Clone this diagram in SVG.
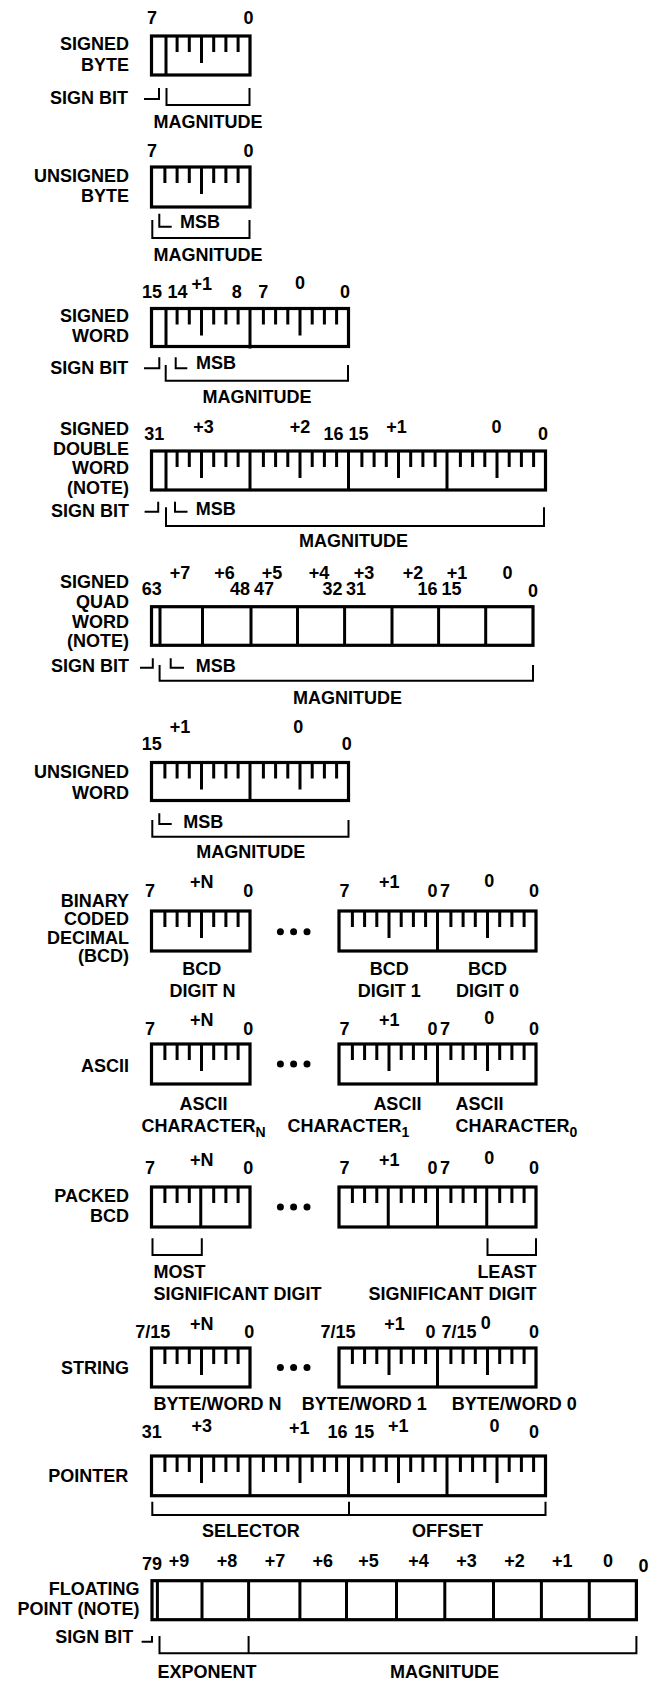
<svg xmlns="http://www.w3.org/2000/svg" width="653" height="1683" viewBox="0 0 653 1683">
<style>
text{font-family:"Liberation Sans",Arial,Helvetica,sans-serif;font-weight:bold;font-size:18px;fill:#000}
.e{text-anchor:end}
.m{text-anchor:middle}
.bx{fill:none;stroke:#000;stroke-width:3.2}
.tk{fill:none;stroke:#000;stroke-width:3}
.br{fill:none;stroke:#000;stroke-width:2}
.sub{font-size:14px}
</style>
<rect width="653" height="1683" fill="#fff"/>

<g id="signed-byte">
<text class="e" x="129" y="50">SIGNED</text>
<text class="e" x="129" y="70.5">BYTE</text>
<text class="m" x="152" y="24">7</text>
<text class="m" x="248.5" y="24">0</text>
<rect class="bx" x="151.5" y="36" width="98.5" height="39"/>
<path class="tk" d="M166,36V75M177.1,36v16M189.3,36v16M201.5,36v27M213.7,36v16M225.9,36v16M238.1,36v16"/>
<text class="e" x="128" y="104">SIGN BIT</text>
<path class="br" d="M144,99H159V88"/>
<path class="br" d="M166.5,88V105H249.5V88"/>
<text class="m" x="208" y="128">MAGNITUDE</text>
</g>

<g id="unsigned-byte">
<text class="e" x="129" y="181.7">UNSIGNED</text>
<text class="e" x="129" y="202">BYTE</text>
<text class="m" x="152" y="157">7</text>
<text class="m" x="248.5" y="157">0</text>
<rect class="bx" x="151.5" y="167" width="98.5" height="40"/>
<path class="tk" d="M164.9,167v16M177.1,167v16M189.3,167v16M201.5,167v27M213.7,167v16M225.9,167v16M238.1,167v16"/>
<path class="br" d="M159.3,213.7V226.7H171.7"/>
<text x="180" y="228">MSB</text>
<path class="br" d="M152.3,220V238H249.5V220"/>
<text class="m" x="208" y="261">MAGNITUDE</text>
</g>

<g id="signed-word">
<text class="e" x="129" y="321.7">SIGNED</text>
<text class="e" x="129" y="341.7">WORD</text>
<text class="m" x="152" y="298">15</text>
<text class="m" x="177.5" y="298">14</text>
<text class="m" x="201.7" y="290">+1</text>
<text class="m" x="236.7" y="298">8</text>
<text class="m" x="263.3" y="298">7</text>
<text class="m" x="300" y="289">0</text>
<text class="m" x="345" y="298">0</text>
<rect class="bx" x="151.5" y="308.5" width="197" height="38"/>
<path class="tk" d="M166,308.5V346.5M250,308.5V348.5M177.1,308.5v16M189.3,308.5v16M201.5,308.5v27M213.7,308.5v16M225.9,308.5v16M238.1,308.5v16M263.4,308.5v16M275.6,308.5v16M287.8,308.5v16M300,308.5v27M312.2,308.5v16M324.4,308.5v16M336.6,308.5v16"/>
<text class="e" x="128.3" y="374">SIGN BIT</text>
<path class="br" d="M144,368.3H159.3V357.3"/>
<path class="br" d="M175.7,357.3V368.3H187.3"/>
<text x="196" y="369">MSB</text>
<path class="br" d="M165.7,365V380.7H348V365"/>
<text class="m" x="257" y="403">MAGNITUDE</text>
</g>

<g id="signed-double-word">
<text class="e" x="129" y="435">SIGNED</text>
<text class="e" x="129" y="454.5">DOUBLE</text>
<text class="e" x="129" y="474">WORD</text>
<text class="e" x="129" y="493.5">(NOTE)</text>
<text class="m" x="154.3" y="440">31</text>
<text class="m" x="203.6" y="433.3">+3</text>
<text class="m" x="300" y="433.3">+2</text>
<text class="m" x="333.5" y="440">16</text>
<text class="m" x="358.5" y="440">15</text>
<text class="m" x="396.4" y="433.3">+1</text>
<text class="m" x="496.4" y="433.3">0</text>
<text class="m" x="543" y="440">0</text>
<rect class="bx" x="151.5" y="451" width="394" height="39"/>
<path class="tk" d="M166,451V490M250,451V490M348.5,451V490M447,451V490M177.1,451v16M189.3,451v16M201.5,451v27M213.7,451v16M225.9,451v16M238.1,451v16M263.4,451v16M275.6,451v16M287.8,451v16M300,451v27M312.2,451v16M324.4,451v16M336.6,451v16M361.9,451v16M374.1,451v16M386.3,451v16M398.5,451v27M410.7,451v16M422.9,451v16M435.1,451v16M460.4,451v16M472.6,451v16M484.8,451v16M497,451v27M509.2,451v16M521.4,451v16M533.6,451v16"/>
<text class="e" x="129" y="516.7">SIGN BIT</text>
<path class="br" d="M144.6,511.7H158.2V501.7"/>
<path class="br" d="M175,501.7V511.7H187.5"/>
<text x="195.7" y="515">MSB</text>
<path class="br" d="M166,507.3V526H544V507.3"/>
<text class="m" x="353.6" y="546.7">MAGNITUDE</text>
</g>

<g id="signed-quad-word">
<text class="e" x="129" y="588.3">SIGNED</text>
<text class="e" x="129" y="608">QUAD</text>
<text class="e" x="129" y="627.5">WORD</text>
<text class="e" x="129" y="647">(NOTE)</text>
<text class="m" x="151.8" y="595">63</text>
<text class="m" x="180" y="579.3">+7</text>
<text class="m" x="224.6" y="579.3">+6</text>
<text class="m" x="240" y="595">48</text>
<text class="m" x="264" y="595">47</text>
<text class="m" x="272" y="579.3">+5</text>
<text class="m" x="319" y="579.3">+4</text>
<text class="m" x="332.5" y="595">32</text>
<text class="m" x="356" y="595">31</text>
<text class="m" x="364" y="579.3">+3</text>
<text class="m" x="413" y="579.3">+2</text>
<text class="m" x="427.5" y="595">16</text>
<text class="m" x="451.5" y="595">15</text>
<text class="m" x="457" y="579.3">+1</text>
<text class="m" x="507.5" y="579.3">0</text>
<text class="m" x="533" y="597.3">0</text>
<rect class="bx" x="151.5" y="606.7" width="381.5" height="38.6"/>
<path class="tk" d="M160,606.7V645.3M202.5,606.7V645.3M251,606.7V645.3M297.5,606.7V645.3M344.6,606.7V645.3M392,606.7V645.3M438.6,606.7V645.3M485.7,606.7V645.3"/>
<text class="e" x="129" y="671.7">SIGN BIT</text>
<path class="br" d="M140,667.7H152.8V658.3"/>
<path class="br" d="M170.7,658.3V667.7H184"/>
<text x="195.7" y="672.3">MSB</text>
<path class="br" d="M159.6,665V680.7H533V665"/>
<text class="m" x="347.5" y="704">MAGNITUDE</text>
</g>

<g id="unsigned-word">
<text class="e" x="129" y="778.3">UNSIGNED</text>
<text class="e" x="129" y="799">WORD</text>
<text class="m" x="180" y="733.3">+1</text>
<text class="m" x="298.3" y="733.3">0</text>
<text class="m" x="151.7" y="750">15</text>
<text class="m" x="346.7" y="750">0</text>
<rect class="bx" x="151.5" y="762.5" width="197" height="38"/>
<path class="tk" d="M250,762.5V800.5M164.9,762.5v16M177.1,762.5v16M189.3,762.5v16M201.5,762.5v27M213.7,762.5v16M225.9,762.5v16M238.1,762.5v16M263.4,762.5v16M275.6,762.5v16M287.8,762.5v16M300,762.5v27M312.2,762.5v16M324.4,762.5v16M336.6,762.5v16"/>
<path class="br" d="M159.3,813.3V824H171.7"/>
<text x="183.3" y="828.3">MSB</text>
<path class="br" d="M152.3,820V836.7H348.5V820"/>
<text class="m" x="250.8" y="858.3">MAGNITUDE</text>
</g>

<g id="bcd">
<text class="e" x="129" y="906.7">BINARY</text>
<text class="e" x="129" y="925.2">CODED</text>
<text class="e" x="129" y="943.7">DECIMAL</text>
<text class="e" x="129" y="962.2">(BCD)</text>
<text class="m" x="150" y="896.7">7</text>
<text class="m" x="201.8" y="888.3">+N</text>
<text class="m" x="248.2" y="896.7">0</text>
<text class="m" x="344.6" y="896.7">7</text>
<text class="m" x="389.3" y="888.3">+1</text>
<text class="m" x="432.5" y="896.7">0</text>
<text class="m" x="445" y="896.7">7</text>
<text class="m" x="489.3" y="886.5">0</text>
<text class="m" x="534" y="896.7">0</text>
<rect class="bx" x="151.5" y="911" width="98.5" height="40"/>
<rect class="bx" x="339" y="911" width="197" height="40"/>
<path class="tk" d="M437.5,911V951M164.9,911v16M177.1,911v16M189.3,911v16M201.5,911v27M213.7,911v16M225.9,911v16M238.1,911v16M352.4,911v16M364.6,911v16M376.8,911v16M389,911v27M401.2,911v16M413.4,911v16M425.6,911v16M450.9,911v16M463.1,911v16M475.3,911v16M487.5,911v27M499.7,911v16M511.9,911v16M524.1,911v16"/>
<circle cx="280.4" cy="931.7" r="3.5"/>
<circle cx="293.6" cy="931.7" r="3.5"/>
<circle cx="307" cy="931.7" r="3.5"/>
<text class="m" x="201.8" y="975">BCD</text>
<text class="m" x="202.5" y="996.7">DIGIT N</text>
<text class="m" x="389.3" y="975">BCD</text>
<text class="m" x="389.3" y="996.7">DIGIT 1</text>
<text class="m" x="487.5" y="975">BCD</text>
<text class="m" x="487.5" y="996.7">DIGIT 0</text>
</g>

<g id="ascii">
<text class="e" x="129" y="1071.7">ASCII</text>
<text class="m" x="150" y="1035">7</text>
<text class="m" x="201.8" y="1025.7">+N</text>
<text class="m" x="248.2" y="1035">0</text>
<text class="m" x="344.6" y="1035">7</text>
<text class="m" x="389.3" y="1025.7">+1</text>
<text class="m" x="432.5" y="1035">0</text>
<text class="m" x="445" y="1035">7</text>
<text class="m" x="489.3" y="1024">0</text>
<text class="m" x="534" y="1035">0</text>
<rect class="bx" x="151.5" y="1044" width="98.5" height="40"/>
<rect class="bx" x="339" y="1044" width="197" height="40"/>
<path class="tk" d="M437.5,1044V1084M164.9,1044v16M177.1,1044v16M189.3,1044v16M201.5,1044v27M213.7,1044v16M225.9,1044v16M238.1,1044v16M352.4,1044v16M364.6,1044v16M376.8,1044v16M389,1044v27M401.2,1044v16M413.4,1044v16M425.6,1044v16M450.9,1044v16M463.1,1044v16M475.3,1044v16M487.5,1044v27M499.7,1044v16M511.9,1044v16M524.1,1044v16"/>
<circle cx="280.4" cy="1064" r="3.5"/>
<circle cx="293.6" cy="1064" r="3.5"/>
<circle cx="307" cy="1064" r="3.5"/>
<text class="m" x="203.6" y="1110">ASCII</text>
<text class="m" x="203.5" y="1131.7">CHARACTER<tspan class="sub" dy="5">N</tspan></text>
<text class="e" x="421.4" y="1110">ASCII</text>
<text x="287.5" y="1131.7">CHARACTER<tspan class="sub" dy="5">1</tspan></text>
<text x="455.4" y="1110">ASCII</text>
<text x="455.4" y="1131.7">CHARACTER<tspan class="sub" dy="5">0</tspan></text>
</g>

<g id="packed-bcd">
<text class="e" x="129" y="1201.7">PACKED</text>
<text class="e" x="129" y="1221.7">BCD</text>
<text class="m" x="150" y="1174">7</text>
<text class="m" x="201.8" y="1165.7">+N</text>
<text class="m" x="248.2" y="1174">0</text>
<text class="m" x="344.6" y="1174">7</text>
<text class="m" x="389.3" y="1165.7">+1</text>
<text class="m" x="432.5" y="1174">0</text>
<text class="m" x="445" y="1174">7</text>
<text class="m" x="489.3" y="1164">0</text>
<text class="m" x="534" y="1174">0</text>
<rect class="bx" x="151.5" y="1187" width="98.5" height="40"/>
<rect class="bx" x="339" y="1187" width="197" height="40"/>
<path class="tk" d="M200.75,1187V1227M388.25,1187V1227M437.5,1187V1227M486.75,1187V1227M164.9,1187v16M177.1,1187v16M189.3,1187v16M213.7,1187v16M225.9,1187v16M238.1,1187v16M352.4,1187v16M364.6,1187v16M376.8,1187v16M401.2,1187v16M413.4,1187v16M425.6,1187v16M450.9,1187v16M463.1,1187v16M475.3,1187v16M499.7,1187v16M511.9,1187v16M524.1,1187v16"/>
<circle cx="280.4" cy="1207" r="3.5"/>
<circle cx="293.6" cy="1207" r="3.5"/>
<circle cx="307" cy="1207" r="3.5"/>
<path class="br" d="M152.5,1238.3V1255H201.8V1238.3"/>
<path class="br" d="M487.5,1238.3V1255H536V1238.3"/>
<text x="153.6" y="1278.3">MOST</text>
<text x="153.6" y="1300">SIGNIFICANT DIGIT</text>
<text class="e" x="536.4" y="1278.3">LEAST</text>
<text class="e" x="536.4" y="1300">SIGNIFICANT DIGIT</text>
</g>

<g id="string">
<text class="e" x="129" y="1374">STRING</text>
<text class="m" x="152.7" y="1338.3">7/15</text>
<text class="m" x="201.8" y="1330">+N</text>
<text class="m" x="249.3" y="1338.3">0</text>
<text class="m" x="338" y="1338.3">7/15</text>
<text class="m" x="394.6" y="1330">+1</text>
<text class="m" x="430.4" y="1338.3">0</text>
<text class="m" x="459" y="1338.3">7/15</text>
<text class="m" x="485.7" y="1329">0</text>
<text class="m" x="534" y="1338.3">0</text>
<rect class="bx" x="151.5" y="1348" width="98.5" height="39"/>
<rect class="bx" x="339" y="1348" width="197" height="39"/>
<path class="tk" d="M437.5,1348V1387M164.9,1348v16M177.1,1348v16M189.3,1348v16M201.5,1348v27M213.7,1348v16M225.9,1348v16M238.1,1348v16M352.4,1348v16M364.6,1348v16M376.8,1348v16M389,1348v27M401.2,1348v16M413.4,1348v16M425.6,1348v16M450.9,1348v16M463.1,1348v16M475.3,1348v16M487.5,1348v27M499.7,1348v16M511.9,1348v16M524.1,1348v16"/>
<circle cx="280.4" cy="1367.5" r="3.5"/>
<circle cx="293.6" cy="1367.5" r="3.5"/>
<circle cx="307" cy="1367.5" r="3.5"/>
<text x="153.6" y="1410">BYTE/WORD N</text>
<text x="301.8" y="1410">BYTE/WORD 1</text>
<text x="451.8" y="1410">BYTE/WORD 0</text>
</g>

<g id="pointer">
<text class="e" x="128.3" y="1482.3">POINTER</text>
<text class="m" x="151.8" y="1438.3">31</text>
<text class="m" x="201.8" y="1431.7">+3</text>
<text class="m" x="299.3" y="1434">+1</text>
<text class="m" x="337.5" y="1438.3">16</text>
<text class="m" x="364.3" y="1438.3">15</text>
<text class="m" x="398.2" y="1431.7">+1</text>
<text class="m" x="494.6" y="1431.7">0</text>
<text class="m" x="534" y="1438.3">0</text>
<rect class="bx" x="151.5" y="1456" width="394" height="39.7"/>
<path class="tk" d="M250,1456V1495.7M348.5,1456V1495.7M447,1456V1495.7M164.9,1456v16M177.1,1456v16M189.3,1456v16M201.5,1456v27M213.7,1456v16M225.9,1456v16M238.1,1456v16M263.4,1456v16M275.6,1456v16M287.8,1456v16M300,1456v27M312.2,1456v16M324.4,1456v16M336.6,1456v16M361.9,1456v16M374.1,1456v16M386.3,1456v16M398.5,1456v27M410.7,1456v16M422.9,1456v16M435.1,1456v16M460.4,1456v16M472.6,1456v16M484.8,1456v16M497,1456v27M509.2,1456v16M521.4,1456v16M533.6,1456v16"/>
<path class="br" d="M152.3,1501.7V1515H545.5V1501.7M349,1501.7V1515"/>
<text class="m" x="250.8" y="1537.3">SELECTOR</text>
<text class="m" x="447.5" y="1537.3">OFFSET</text>
</g>

<g id="floating-point">
<text class="e" x="139.5" y="1595">FLOATING</text>
<text class="e" x="139.5" y="1615">POINT (NOTE)</text>
<text class="m" x="152" y="1570">79</text>
<text class="m" x="179" y="1567.3">+9</text>
<text class="m" x="227" y="1567.3">+8</text>
<text class="m" x="274.9" y="1567.3">+7</text>
<text class="m" x="322.8" y="1567.3">+6</text>
<text class="m" x="368.6" y="1567.3">+5</text>
<text class="m" x="418.6" y="1567.3">+4</text>
<text class="m" x="466.5" y="1567.3">+3</text>
<text class="m" x="514.4" y="1567.3">+2</text>
<text class="m" x="562.3" y="1567.3">+1</text>
<text class="m" x="608" y="1567.3">0</text>
<text class="m" x="643.5" y="1571.7">0</text>
<rect class="bx" x="152" y="1580.7" width="484.4" height="39"/>
<path class="tk" d="M157.4,1580.7V1619.7M202,1580.7V1619.7M248.6,1580.7V1619.7M299.9,1580.7V1619.7M346.5,1580.7V1619.7M396.5,1580.7V1619.7M444.8,1580.7V1619.7M493.5,1580.7V1619.7M541.4,1580.7V1619.7M589.3,1580.7V1619.7"/>
<text class="e" x="133.3" y="1643.3">SIGN BIT</text>
<path class="br" d="M141.6,1641.7H152V1636"/>
<path class="br" d="M159.5,1636V1653.3H636.4V1636M248.6,1636V1653.3"/>
<text class="m" x="207" y="1678.3">EXPONENT</text>
<text class="m" x="444.6" y="1678.3">MAGNITUDE</text>
</g>
</svg>
